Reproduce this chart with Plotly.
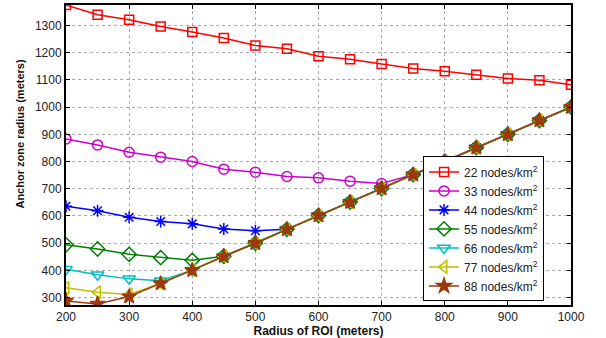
import plotly.graph_objects as go

radius = [200, 250, 300, 350, 400, 450, 500, 550, 600, 650, 700, 750, 800, 850, 900, 950, 1000]

d22 = [1375, 1339, 1321, 1296, 1276, 1254, 1226, 1214, 1187, 1176, 1158, 1142, 1132, 1119, 1105, 1099, 1082]
d33 = [883, 861, 834, 816, 800, 772, 761, 745, 740, 728, 719, 752, 800, 851, 900, 951, 1000]
d44 = [636, 619, 595, 580, 571, 552, 546, 551, 602, 651, 701, 752, 800, 851, 900, 951, 1000]
d55 = [494, 479, 459, 447, 437, 452, 500, 551, 602, 651, 701, 752, 800, 851, 900, 951, 1000]
d66 = [404, 384, 369, 362, 401, 452, 500, 551, 602, 651, 701, 752, 800, 851, 900, 951, 1000]
d77 = [336, 320, 312, 352, 401, 452, 500, 551, 602, 651, 701, 752, 800, 851, 900, 951, 1000]
d88 = [288, 277, 304, 352, 401, 452, 500, 551, 602, 651, 701, 752, 800, 851, 900, 951, 1000]

series = [
    ("22", d22, "#ff0000", "square-open", 9),
    ("33", d33, "#cc00cc", "circle-open", 10),
    ("44", d44, "#0000ff", "asterisk-open", 10),
    ("55", d55, "#008000", "diamond-open", 11),
    ("66", d66, "#00bfbf", "triangle-down-open", 11),
    ("77", d77, "#bfbf00", "triangle-left-open", 11),
    ("88", d88, "#9c3a0c", "star", 11),
]

fig = go.Figure()
for name, vals, col, sym, sz in series:
    fig.add_trace(go.Scatter(
        x=radius, y=vals, mode="lines+markers",
        name=f"{name} nodes/km<sup>2</sup>",
        line=dict(color=col, width=1.5),
        marker=dict(symbol=sym, size=sz, color=col, line=dict(color=col, width=1.5)),
    ))

axis_common = dict(
    showline=True, linecolor="black", linewidth=2, mirror="ticks",
    ticks="inside", ticklen=4, tickcolor="black", tickwidth=1,
    showgrid=True, gridcolor="#aaaaaa", griddash="dot", gridwidth=1,
    zeroline=False,
    tickfont=dict(family="Liberation Sans, Arial", size=12, color="#222"),
)

fig.update_layout(
    width=606, height=338,
    margin=dict(l=66, r=35, t=3, b=32),
    paper_bgcolor="white", plot_bgcolor="white",
    font=dict(family="Liberation Sans, Arial", size=11, color="#222"),
    xaxis=dict(range=[200, 1000], dtick=100, tick0=200, **axis_common,
               title=dict(text="<b>Radius of ROI (meters)</b>", standoff=2,
                          font=dict(size=12, color="#111"))),
    yaxis=dict(range=[273, 1375], dtick=100, tick0=300, **axis_common),
    legend=dict(x=0.707, y=0.012, xanchor="left", yanchor="bottom",
                bgcolor="white", bordercolor="black", borderwidth=1,
                font=dict(size=12, color="#222"), tracegroupgap=0,
                itemwidth=30),
    showlegend=True,
)

fig.add_annotation(
    text="<b>Anchor zone radius (meters)</b>", textangle=-90,
    xref="paper", yref="paper", x=-0.092, y=0.57, xanchor="center", yanchor="middle",
    showarrow=False, font=dict(size=11, color="#111"),
)

fig.write_html("out.html")
